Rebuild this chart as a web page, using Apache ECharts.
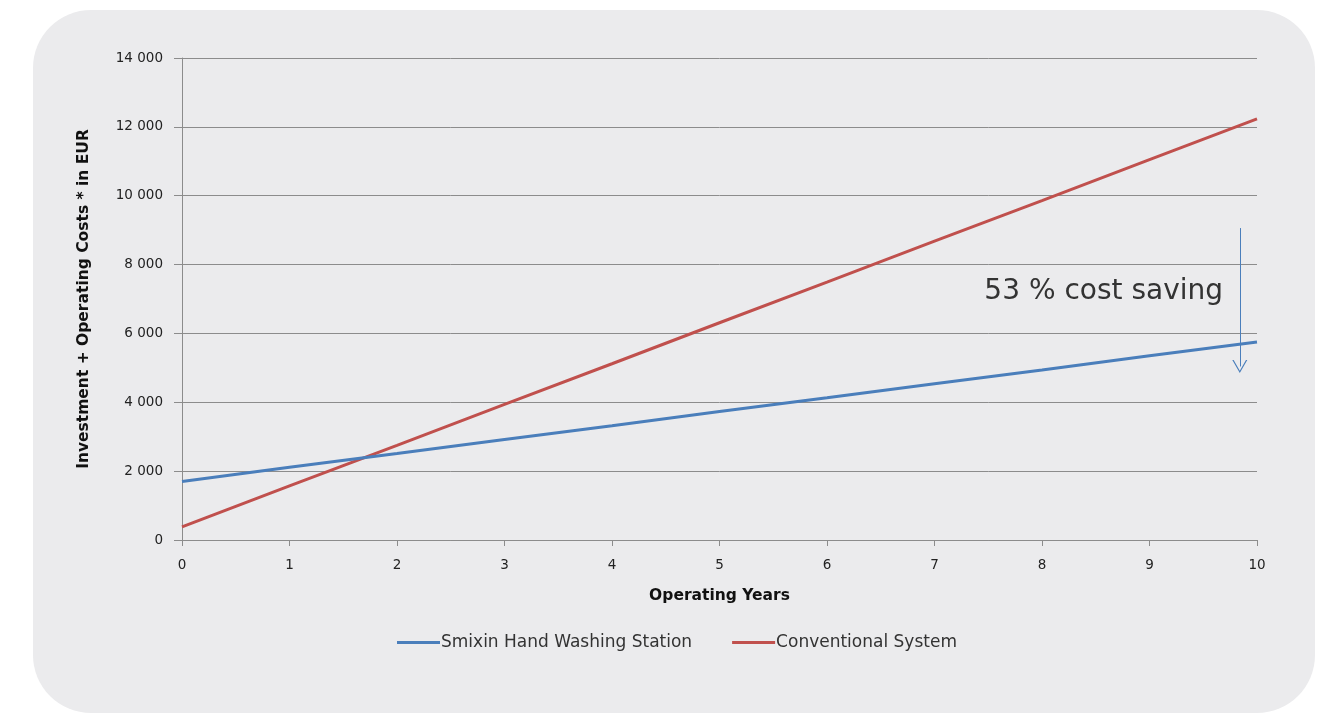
<!DOCTYPE html>
<html>
<head>
<meta charset="utf-8">
<script src="https://cdn.jsdelivr.net/npm/echarts@6/dist/echarts.min.js"></script>
<style>
html,body{margin:0;padding:0;background:#ffffff;}
#chart{width:1320px;height:715px;}
</style>
</head>
<body>
<div id="chart"></div>
<script>
const years = [0, 1, 2, 3, 4, 5, 6, 7, 8, 9, 10];
const smixin = [1700, 2110, 2510, 2920, 3320, 3730, 4130, 4540, 4940, 5350, 5750];
const conventional = [380, 1570, 2750, 3940, 5120, 6310, 7490, 8680, 9860, 11050, 12230];
const seriesNames = ['Smixin Hand Washing Station', 'Conventional System'];
const annotationText = '53 % cost saving';
const arrowX = 9.84;
const arrowFrom = 9060;
const arrowTo = 5040;

const fmt = v => {
  const s = String(Math.round(v));
  return s.replace(/\B(?=(\d{3})+(?!\d))/g, ' ');
};

const chart = echarts.init(document.getElementById('chart'), null, {renderer: 'canvas'});
const font = '"DejaVu Sans", Arial, sans-serif';

chart.setOption({
  animation: false,
  backgroundColor: '#ffffff',
  textStyle: {fontFamily: font},
  graphic: [
    {type: 'rect', z: -10, silent: true,
      shape: {x: 33, y: 10, width: 1282, height: 703, r: 58},
      style: {fill: '#ebebed'}},
    {type: 'text', z: 10, right: 97, top: 278,
      style: {text: annotationText, font: '28px ' + font, fill: '#333333', textAlign: 'right'}}
  ],
  grid: {left: 182, right: 63, top: 58, bottom: 175, containLabel: false},
  legend: {
    bottom: 59,
    left: 392,
    icon: 'rect',
    itemWidth: 43,
    itemHeight: 3,
    itemGap: 40,
    textStyle: {fontSize: 17, color: '#333333', fontFamily: font, padding: [0, 0, 0, -4]},
    data: seriesNames
  },
  xAxis: {
    type: 'value', min: 0, max: 10, interval: 1,
    name: 'Operating Years', nameLocation: 'middle', nameGap: 48,
    nameTextStyle: {fontSize: 15.5, fontWeight: 'bold', color: '#111111'},
    axisLine: {show: true, lineStyle: {color: '#8c8c8c', width: 1}},
    axisTick: {show: true, length: 6, lineStyle: {color: '#8c8c8c'}},
    axisLabel: {fontSize: 13.5, color: '#222222', margin: 18},
    splitLine: {show: false}
  },
  yAxis: {
    type: 'value', min: 0, max: 14000, interval: 2000,
    name: 'Investment + Operating Costs * in EUR', nameLocation: 'middle', nameGap: 90,
    nameTextStyle: {fontSize: 15.5, fontWeight: 'bold', color: '#111111'},
    axisLine: {show: true, lineStyle: {color: '#8c8c8c', width: 1}},
    axisTick: {show: true, length: 8, lineStyle: {color: '#8c8c8c'}},
    axisLabel: {fontSize: 13.5, color: '#222222', margin: 19, formatter: fmt},
    splitLine: {show: true, lineStyle: {color: '#8c8c8c', width: 1}}
  },
  series: [
    {
      name: seriesNames[0], type: 'line',
      data: years.map((y, i) => [y, smixin[i]]),
      showSymbol: false, symbol: 'none',
      lineStyle: {color: '#4a7ebb', width: 3},
      itemStyle: {color: '#4a7ebb'},
      z: 3,
      markLine: {
        silent: true,
        symbol: ['none', 'path://M0,10 L5,0 L10,10 L9.1,10 L5,1.8 L0.9,10 Z'],
        symbolSize: [15, 13],
        label: {show: false},
        lineStyle: {color: '#4a7ebb', width: 1, type: 'solid'},
        data: [[{coord: [arrowX, arrowFrom]}, {coord: [arrowX, arrowTo]}]]
      }
    },
    {
      name: seriesNames[1], type: 'line',
      data: years.map((y, i) => [y, conventional[i]]),
      showSymbol: false, symbol: 'none',
      lineStyle: {color: '#c0504d', width: 3},
      itemStyle: {color: '#c0504d'},
      z: 2
    }
  ]
});
</script>
</body>
</html>
